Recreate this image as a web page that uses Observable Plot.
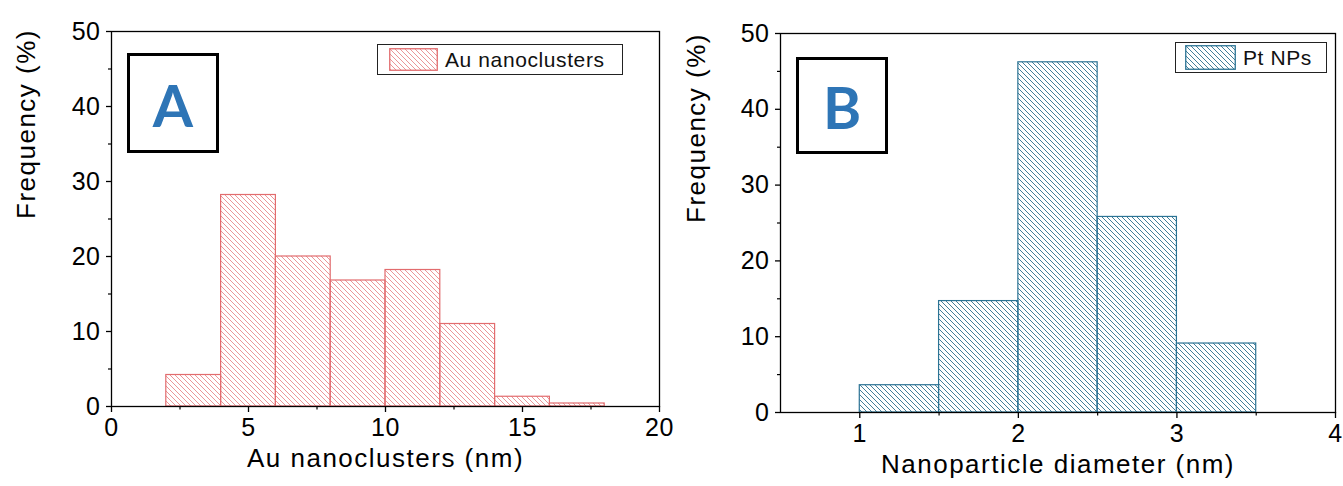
<!DOCTYPE html>
<html><head><meta charset="utf-8">
<script src="https://cdn.jsdelivr.net/npm/d3@7"></script>
<script src="https://cdn.jsdelivr.net/npm/@observablehq/plot@0.6"></script>
<style>
body{margin:0;background:#fff;font-family:"Liberation Sans",Arimo,Arial,sans-serif;}
#wrap{position:relative;width:1343px;height:486px;overflow:hidden;background:#fff;}
.panel{position:absolute;top:0;}
.panel svg{overflow:visible;background:none !important;}
.axlabel{letter-spacing:1.5px;}
.ticklab text{letter-spacing:0.5px;}
.lbox{position:absolute;border:3px solid #000;box-sizing:border-box;display:flex;align-items:center;justify-content:center;font-family:Lato,"Open Sans",sans-serif;font-weight:bold;color:#2e75b6;font-size:58px;line-height:1;padding-top:3px;}
.legend{position:absolute;border:1.5px solid #222;box-sizing:border-box;background:#fff;display:flex;align-items:center;font-size:21px;letter-spacing:0.6px;color:#111;}
.legend svg{display:block;margin-right:7px;}
</style></head><body><div id="wrap"></div>
<script>
// Panel A: Au nanoclusters size distribution
const auBinStart = [2, 4, 6, 8, 10, 12, 14, 16];
const auBinEnd   = [4, 6, 8, 10, 12, 14, 16, 18];
const auFreq     = [4.2, 28.2, 20, 16.8, 18.2, 11, 1.3, 0.4];
// Panel B: Pt NPs size distribution
const ptBinStart = [1, 1.5, 2, 2.5, 3];
const ptBinEnd   = [1.5, 2, 2.5, 3, 3.5];
const ptFreq     = [3.6, 14.7, 46.2, 25.8, 9.1];
// Ticks
const yTicks   = [0, 10, 20, 30, 40, 50];
const yMinor   = [5, 15, 25, 35, 45];
const auXTicks = [0, 5, 10, 15, 20];
const auXMinor = [2.5, 7.5, 12.5, 17.5];
const ptXTicks = [1, 2, 3, 4];
const ptXMinor = [1.5, 2.5, 3.5];
// Labels
const auXLabel = "Au nanoclusters (nm)";
const ptXLabel = "Nanoparticle diameter (nm)";
const yLabel = "Frequency (%)";
const auLegend = "Au nanoclusters";
const ptLegend = "Pt NPs";
const auPanel = "A";
const ptPanel = "B";

const redStroke = "#e26c6e", redHatch = "#e98a8c";
const blueStroke = "#2b7394", blueHatch = "#2f6f8d";
const FONT = "'Liberation Sans', Arimo, Arial, sans-serif";

function addPattern(svg, id, color){
  let defs = d3.select(svg).select("defs");
  if (defs.empty()) defs = d3.select(svg).insert("defs", ":first-child");
  const p = defs.append("pattern").attr("id", id).attr("patternUnits","userSpaceOnUse")
    .attr("width",5).attr("height",5);
  p.append("path").attr("d","M0,0L5,5M-1,4L1,6M4,-1L6,1")
    .attr("stroke",color).attr("stroke-width",0.9).attr("fill","none");
}

function makePanel(o){
  const data = o.x1.map((d,i)=>({x1:d, x2:o.x2[i], f:o.f[i]}));
  const svg = Plot.plot({
    width:o.width, height:486,
    marginLeft:o.ml, marginRight:o.mr, marginTop:o.mt, marginBottom:o.mb,
    style:{fontFamily:FONT, background:"none", color:"black", overflow:"visible"},
    x:{domain:o.xdomain},
    y:{domain:[0,50]},
    marks:[
      Plot.rectY(data,{x1:"x1", x2:"x2", y:"f", fill:`url(#${o.pid})`, stroke:o.stroke, strokeWidth:1.2}),
      Plot.frame({stroke:"#000", strokeWidth:1.3}),
      Plot.axisY(yTicks,{tickSize:5, tickPadding:6, fontSize:25, label:null, strokeWidth:1.3, className:"ticklab"}),
      Plot.axisY(yMinor,{tickSize:3, tickFormat:()=>"", label:null, strokeWidth:1.2}),
      Plot.axisX(o.xticks,{tickSize:6, tickPadding:6, fontSize:25, label:null, strokeWidth:1.3, tickFormat:d=>String(d), className:"ticklab"}),
      Plot.axisX(o.xminor,{tickSize:3.5, tickFormat:()=>"", label:null, strokeWidth:1.2}),
      Plot.text([yLabel],{frameAnchor:"left", dx:o.ylabDx, rotate:-90, fontSize:26, className:"axlabel"}),
      Plot.text([o.xlabel],{frameAnchor:"bottom", dy:o.xlabDy, fontSize:26, className:"axlabel"})
    ]
  });
  addPattern(svg, o.pid, o.hatch);
  const div = document.createElement("div");
  div.className = "panel";
  div.style.left = o.left + "px";
  div.appendChild(svg);
  document.getElementById("wrap").appendChild(div);
}

function swatch(id, color, stroke, w, h){
  const s = d3.create("svg").attr("width",w).attr("height",h);
  const p = s.append("defs").append("pattern").attr("id",id).attr("patternUnits","userSpaceOnUse")
    .attr("width",5).attr("height",5);
  p.append("path").attr("d","M0,0L5,5M-1,4L1,6M4,-1L6,1").attr("stroke",color).attr("stroke-width",0.9);
  s.append("rect").attr("x",0.75).attr("y",0.75).attr("width",w-1.5).attr("height",h-1.5)
    .attr("fill",`url(#${id})`).attr("stroke",stroke).attr("stroke-width",1.3);
  return s.node();
}

function addLegend(left, top, w, h, padL, sw, sh, id, color, stroke, text){
  const d = document.createElement("div");
  d.className = "legend";
  Object.assign(d.style,{left:left+"px", top:top+"px", width:w+"px", height:h+"px", paddingLeft:padL+"px"});
  d.appendChild(swatch(id, color, stroke, sw, sh));
  const t = document.createElement("span"); t.textContent = text; d.appendChild(t);
  document.getElementById("wrap").appendChild(d);
}
function addBox(left, top, w, h, text){
  const d = document.createElement("div");
  d.className = "lbox";
  Object.assign(d.style,{left:left+"px", top:top+"px", width:w+"px", height:h+"px"});
  d.textContent = text;
  document.getElementById("wrap").appendChild(d);
}

makePanel({left:0, width:670, ml:111, mr:11, mt:31, mb:80, xdomain:[0,20],
  x1:auBinStart, x2:auBinEnd, f:auFreq, pid:"hatchA", hatch:redHatch, stroke:redStroke,
  xticks:auXTicks, xminor:auXMinor, xlabel:auXLabel, ylabDx:-85, xlabDy:60});
makePanel({left:670, width:673, ml:110, mr:8, mt:33, mb:74, xdomain:[0.5,4],
  x1:ptBinStart, x2:ptBinEnd, f:ptFreq, pid:"hatchB", hatch:blueHatch, stroke:blueStroke,
  xticks:ptXTicks, xminor:ptXMinor, xlabel:ptXLabel, ylabDx:-84, xlabDy:60});

addLegend(377, 44, 246, 31, 11, 49, 23, "swA", redHatch, redStroke, auLegend);
addLegend(1175, 42, 152, 31, 9, 51, 25, "swB", blueHatch, blueStroke, ptLegend);
addBox(127, 53, 92, 100, auPanel);
addBox(796, 57, 92, 97, ptPanel);
</script></body></html>
